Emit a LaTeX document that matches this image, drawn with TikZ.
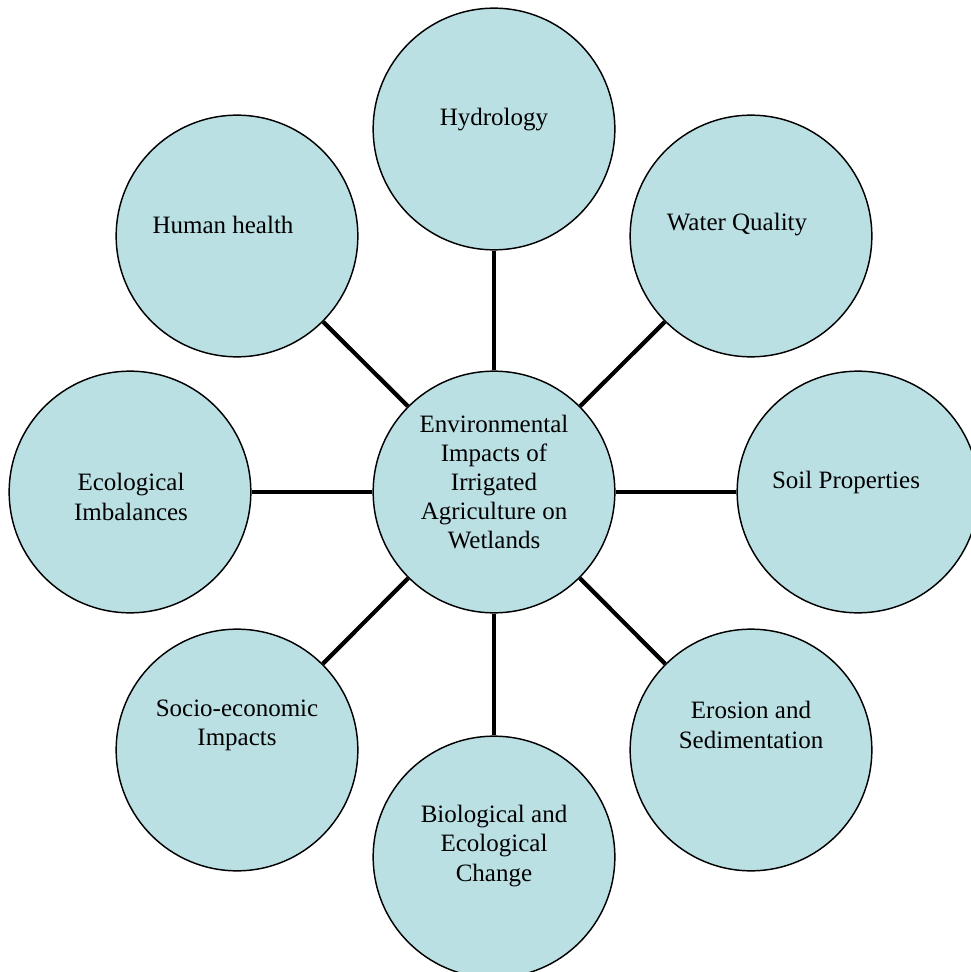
\documentclass[tikz,border=0pt]{standalone}
\usepackage{fontspec}
\setmainfont{Liberation Serif}
\definecolor{bubble}{RGB}{187,224,227}
\begin{document}
\begin{tikzpicture}[x=0.48pt, y=-0.48pt,
		bub/.style={circle, draw, line width=0.7pt, fill=bubble, minimum size=116pt, inner sep=0pt},
		txt/.style={align=center, font=\fontsize{12}{14}\selectfont}]
	\useasboundingbox (0,0) rectangle (971,972);
	
	\node [bub] (env) at (494,492) {};
	\node [bub] (hyd) at (494,129) {};
	\node [bub] (wq) at (751,236) {};
	\node [bub] (soil) at (858,492) {};
	\node [bub] (ero) at (751,750) {};
	\node [bub] (bio) at (494,857) {};
	\node [bub] (soc) at (237,750) {};
	\node [bub] (eco) at (130,492) {};
	\node [bub] (hum) at (237,236) {};
	
	\draw [line width=2pt] (env) -- (hyd);
	\draw [line width=2pt] (env) -- (wq);
	\draw [line width=2pt] (env) -- (soil);
	\draw [line width=2pt] (env) -- (ero);
	\draw [line width=2pt] (env) -- (bio);
	\draw [line width=2pt] (env) -- (soc);
	\draw [line width=2pt] (env) -- (eco);
	\draw [line width=2pt] (env) -- (hum);
	
	\node [txt] (envtxt) at (494,482) {Environmental\\Impacts of\\Irrigated\\Agriculture on\\Wetlands};
	\node [txt] (hydtxt) at (494,120) {Hydrology};
	\node [txt] (wqtxt) at (737,225) {Water Quality};
	\node [txt] (soiltxt) at (846,482) {Soil Properties};
	\node [txt] (erotxt) at (751,725) {Erosion and\\Sedimentation};
	\node [txt] (biotxt) at (494,846) {Biological and\\Ecological\\Change};
	\node [txt] (soctxt) at (237,725) {Socio-economic\\Impacts};
	\node [txt] (ecotxt) at (131,497) {Ecological\\Imbalances};
	\node [txt] (humtxt) at (223,225) {Human health};
\end{tikzpicture}
\end{document}
